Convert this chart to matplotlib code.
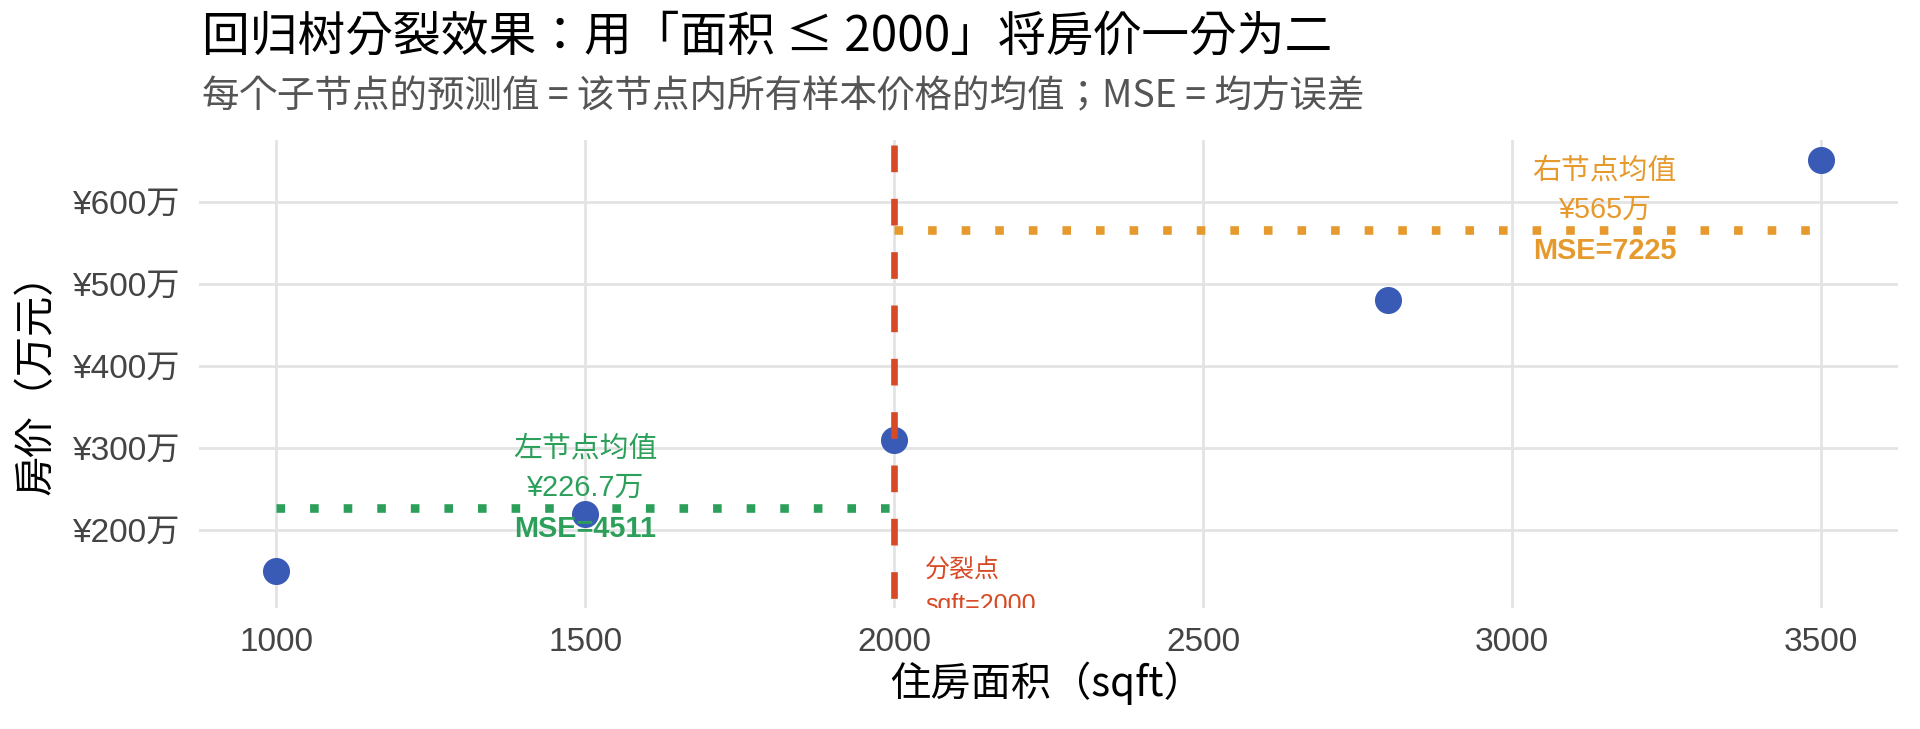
import numpy as np
import matplotlib.pyplot as plt
from matplotlib.ticker import FuncFormatter

# data
sqft = [1000, 1500, 2000, 2800, 3500]
price = [150, 220, 310, 480, 650]
split_x = 2000
left_mean = 226.7
right_mean = 565
left_mse = 4511
right_mse = 7225
x_ticks = [1000, 1500, 2000, 2500, 3000, 3500]
y_ticks = [200, 300, 400, 500, 600]

cjk = ['Noto Sans CJK KR', 'DejaVu Sans']
mixed = ['Liberation Sans', 'Noto Sans CJK SC', 'DejaVu Sans']
plt.rcParams['font.family'] = cjk

blue = "#3A5BB5"
red = "#D84A26"
green = "#2CA05A"
orange = "#E69A2E"

fig = plt.figure(figsize=(9.6, 3.645), dpi=200)
ax = fig.add_axes([0.1036, 0.166, 0.885, 0.642])

# split line (drawn top-down so the dash pattern starts at the top)
ax.axvline(split_x, ymin=0.99, ymax=0, color=red, lw=2.4, dashes=(4, 4), zorder=3)
# node means
ax.plot([sqft[0], split_x], [left_mean, left_mean], color=green, lw=3.1,
        dashes=(1, 2.9), dash_capstyle='butt', zorder=2)
ax.plot([split_x, sqft[-1]], [right_mean, right_mean], color=orange, lw=3.1,
        dashes=(1, 2.9), dash_capstyle='butt', zorder=2)

# samples
ax.scatter(sqft, price, s=95, color=blue, zorder=2.5, linewidths=0)

# annotations
ax.text(1500, left_mean + 49, f"左节点均值\n¥{left_mean}万", color=green,
        ha='center', va='center', fontsize=10.4, family=mixed, linespacing=1.5)
ax.text(1500, left_mean - 26, f"MSE={left_mse}", color=green, ha='center',
        va='center', fontsize=10.4, fontweight='bold', family=mixed)
ax.text(3150, right_mean + 49, f"右节点均值\n¥{right_mean}万", color=orange,
        ha='center', va='center', fontsize=10.4, family=mixed, linespacing=1.5)
ax.text(3150, right_mean - 25, f"MSE={right_mse}", color=orange, ha='center',
        va='center', fontsize=10.4, fontweight='bold', family=mixed)
ax.text(split_x + 50, 130, f"分裂点\nsqft={split_x}", color=red, ha='left',
        va='center', fontsize=9, family=mixed, linespacing=1.6, clip_on=True)

ax.set_xlim(875, 3625)
ax.set_ylim(105, 675)
ax.set_xticks(x_ticks)
ax.set_yticks(y_ticks)
ax.yaxis.set_major_formatter(FuncFormatter(lambda v, p: f"¥{v:.0f}万"))
for lab in ax.get_xticklabels() + ax.get_yticklabels():
    lab.set_family(mixed)
ax.tick_params(length=0, labelsize=12, labelcolor="#444444", pad=7)
ax.grid(True, color="#E3E3E3", lw=1.0)
ax.set_axisbelow(True)
for s in ax.spines.values():
    s.set_visible(False)

fig.text(0.105, 0.949, "回归树分裂效果：用「面积 ≤ 2000」将房价一分为二",
         fontsize=17.2, ha='left', va='center', color="black")
fig.text(0.105, 0.867, "每个子节点的预测值 = 该节点内所有样本价格的均值；MSE = 均方误差",
         fontsize=13.5, ha='left', va='center', color="#555555")
fig.text(0.5455, 0.063, "住房面积（sqft）", fontsize=14.5, ha='center', va='center')
fig.text(0.019, 0.487, "房价（万元）", fontsize=14.5, ha='center', va='center',
         rotation=90)

fig.savefig("out.png", dpi=200)
